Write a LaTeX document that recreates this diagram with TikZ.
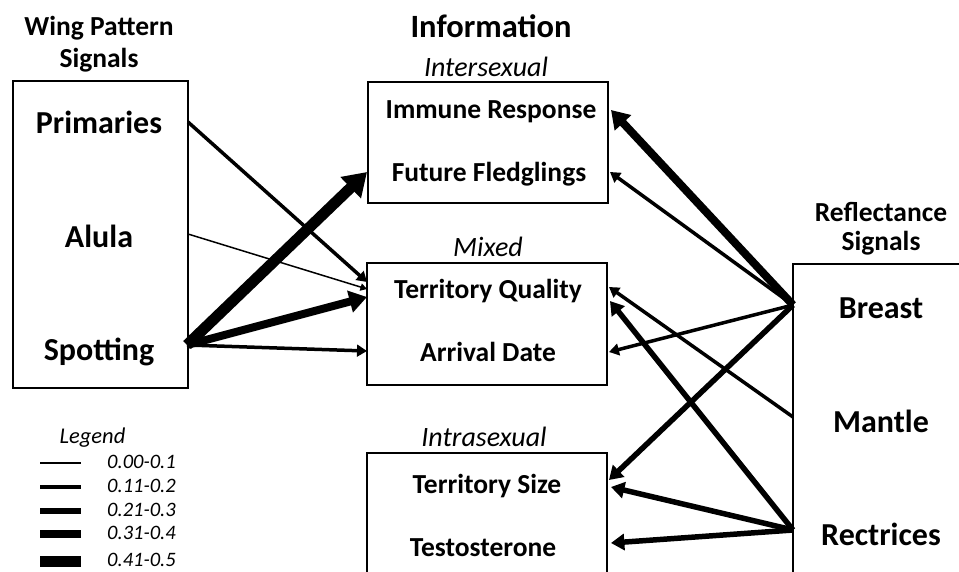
\documentclass[tikz,border=0pt]{standalone}
\usepackage{fontspec}
\setmainfont{Carlito}
\usetikzlibrary{positioning}
\usetikzlibrary{arrows.meta}

\begin{document}
\begin{tikzpicture}[x=1pt,y=-1pt]
\tikzset{box/.style={draw,line width=1.2pt,inner sep=0pt},
	side/.style={font=\fontsize{32}{32}\selectfont\bfseries,anchor=base},
	item/.style={font=\fontsize{27.5}{27.5}\selectfont\bfseries,anchor=base},
	head/.style={font=\fontsize{27.5}{27.5}\selectfont\bfseries,anchor=base},
	kind/.style={font=\fontsize{28}{28}\selectfont\itshape,anchor=base},
	leg/.style={font=\fontsize{20.5}{20.5}\selectfont\itshape,anchor=base west,inner sep=0pt},
	link/.style={-{Triangle[length=4pt 1.7,width=4pt 2.2]}},
	r1/.style={line width=1.5pt}, r2/.style={line width=3.5pt},
	r3/.style={line width=5.5pt}, r4/.style={line width=8pt},
	r5/.style={line width=11pt}}

\useasboundingbox (0,0) rectangle (959,571);
\clip (0,0) rectangle (959,571);

\node[box,minimum width=175pt,minimum height=307pt] (wing) at (100.5,234.5) {};
\node[box,minimum width=240pt,minimum height=121pt] (inter) at (488,142.5) {};
\node[box,minimum width=240pt,minimum height=122pt] (mixed) at (487,324) {};
\node[box,minimum width=240pt,minimum height=134pt] (intra) at (487,520) {};
\node[box,minimum width=176pt,minimum height=336pt] (refl) at (881,432) {};

\node[head] (wingt1) at (99,35) {Wing Pattern};
\node[head] (wingt2) at (99,67) {Signals};
\node[head,font=\fontsize{32.5}{32.5}\selectfont\bfseries] (infot) at (491,37) {Information};
\node[head] (reflt1) at (881,221) {Reflectance};
\node[head] (reflt2) at (881,250) {Signals};

\node[kind] (intert) at (486,76) {Intersexual};
\node[kind] (mixedt) at (488,256) {Mixed};
\node[kind] (intrat) at (484,446) {Intrasexual};

\node[side] (prim) at (99,133) {Primaries};
\node[side] (alula) at (99,247) {Alula};
\node[side] (spot) at (99,360) {Spotting};

\node[side] (breast) at (881,318) {Breast};
\node[side] (mantle) at (881,432) {Mantle};
\node[side] (rect) at (881,545) {Rectrices};

\node[item] (imm) at (491,118) {Immune Response};
\node[item] (fut) at (489,181) {Future Fledglings};
\node[item] (tq) at (488,298) {Territory Quality};
\node[item] (arr) at (488,361) {Arrival Date};
\node[item] (ts) at (487,493) {Territory Size};
\node[item] (test) at (483,556) {Testosterone};

\node[kind,font=\fontsize{22.5}{22.5}\selectfont\itshape] (legt) at (92.5,443) {Legend};
\foreach \i/\y/\t in {1/463/0.00-0.1,2/487/0.11-0.2,3/511/0.21-0.3,4/534/0.31-0.4,5/561/0.41-0.5}
{
	\draw[r\i] (40,\y) -- (81,\y);
	\node[leg] (leg\i) at (107,\y+5) {\t};
}

\coordinate (prim-o) at (188,122);
\coordinate (alula-o) at (188,234);
\coordinate (spot-o) at (187,345);
\coordinate (breast-o) at (793,305);
\coordinate (mantle-o) at (793,417);
\coordinate (rect-o) at (793,530);

\coordinate (inter-w) at (367,172);
\coordinate (tq-w1) at (367,282);
\coordinate (tq-w2) at (367,289);
\coordinate (tq-w3) at (367,297);
\coordinate (arr-w) at (367,351);
\coordinate (imm-e) at (611,110);
\coordinate (fut-e) at (610,172);
\coordinate (tq-e1) at (609,287);
\coordinate (tq-e2) at (610,301);
\coordinate (arr-e) at (609,352);
\coordinate (ts-e1) at (609,480);
\coordinate (ts-e2) at (611,487);
\coordinate (test-e) at (611,543);

\draw[link,r2] (prim-o) -- (tq-w1);
\draw[link,r1] (alula-o) -- (tq-w2);
\draw[link,r5] (spot-o) -- (inter-w);
\draw[link,r4] (spot-o) -- (tq-w3);
\draw[link,r2] (spot-o) -- (arr-w);

\draw[link,r4] (breast-o) -- (imm-e);
\draw[link,r2] (breast-o) -- (fut-e);
\draw[link,r2] (breast-o) -- (arr-e);
\draw[link,r3] (breast-o) -- (ts-e1);
\draw[link,r2] (mantle-o) -- (tq-e1);
\draw[link,r3] (rect-o) -- (tq-e2);
\draw[link,r3] (rect-o) -- (ts-e2);
\draw[link,r3] (rect-o) -- (test-e);
\end{tikzpicture}
\end{document}
